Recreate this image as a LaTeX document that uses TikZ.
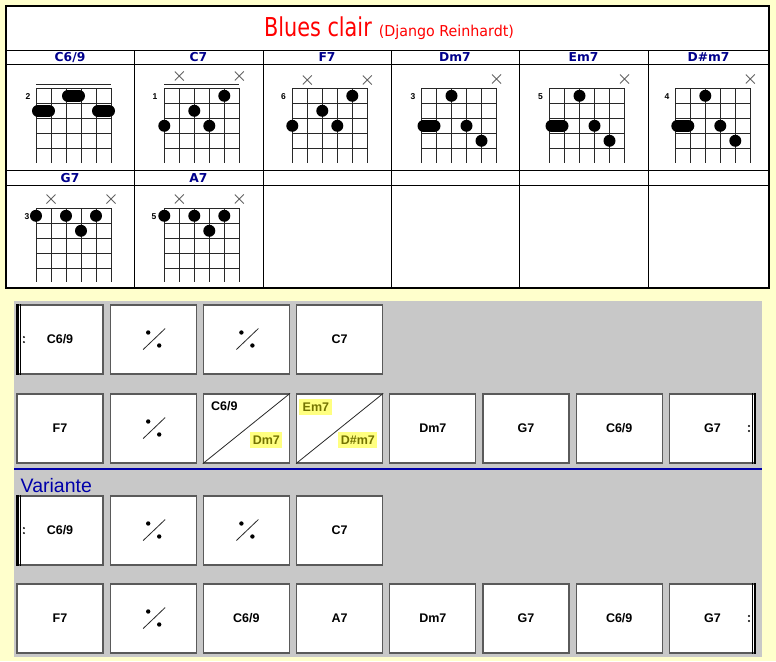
\documentclass[tikz,border=0pt]{standalone}
\usepackage{fontspec}
\setmainfont{Liberation Sans}
\newfontfamily\titlefont[FakeStretch=0.8]{DejaVu Sans}
\newfontfamily\subtitlefont[FakeStretch=0.95]{DejaVu Sans}
\newfontfamily\hdrfont{DejaVu Sans}
\definecolor{bgyellow}{RGB}{255,255,204}
\definecolor{panelgrey}{RGB}{200,200,200}
\definecolor{boxedge}{RGB}{90,90,90}
\definecolor{navyhdr}{RGB}{0,0,140}
\definecolor{varblue}{RGB}{0,0,170}
\definecolor{hlyellow}{RGB}{255,255,128}
\definecolor{olivetxt}{RGB}{115,115,0}
\definecolor{titlered}{RGB}{255,0,0}
\definecolor{gridgrey}{RGB}{40,40,40}
\definecolor{mutegrey}{RGB}{100,100,100}
\tikzset{
  gridline/.style={draw=gridgrey,line width=1pt},
  xmark/.style={draw=mutegrey,line width=0.8pt},
  simline/.style={draw=gridgrey,line width=0.8pt},
  hdr/.style={anchor=base,inner sep=0pt,text=navyhdr,font=\hdrfont\bfseries\fontsize{12.3}{14}\selectfont},
  fretno/.style={inner sep=0pt,font=\bfseries\fontsize{8.5}{10}\selectfont},
  bar/.style={draw=boxedge,fill=white,line width=1.2pt,minimum width=86pt,minimum height=69pt,inner sep=0pt,font=\bfseries\fontsize{12.5}{14}\selectfont},
  hl/.style={fill=hlyellow,text=olivetxt,inner sep=0pt,minimum height=16pt,font=\bfseries\fontsize{12.5}{14}\selectfont},
  tline/.style={draw=black,line width=1pt}
}
% fretboard helpers
\newcommand\fgrid[4]{%
  \foreach \i in {0,...,5} \draw[gridline] ({#1+15*\i},#2) -- ({#1+15*\i},#4);
  \foreach \j in {0,...,#3} \draw[gridline] (#1,{#2+15*\j}) -- ({#1+75},{#2+15*\j});}
\newcommand\fdot[4]{\fill ({#1+15*(#3-1)},{#2+15*(#4-1)+7.5}) circle[radius=6pt];}
\newcommand\fbarre[5]{\draw[line width=12pt,line cap=round] ({#1+15*(#3-1)+2},{#2+15*(#5-1)+7.5}) -- ({#1+15*(#4-1)-2},{#2+15*(#5-1)+7.5});}
\newcommand\fmute[3]{\draw[xmark] ({#1+15*(#3-1)-4.5},{#2-4.5}) -- ++(9,9) ({#1+15*(#3-1)-4.5},{#2+4.5}) -- ++(9,-9);}
\newcommand\bx[4]{\node[bar] (#1) at ({60+93.2*#2},#3) {#4};}
\newcommand\simile[1]{%
  \draw[simline] ([shift={(-10,10)}]#1.center) -- ([shift={(12,-11)}]#1.center);
  \fill ([shift={(-5,-7)}]#1.center) circle[radius=2.2pt];
  \fill ([shift={(6,6)}]#1.center) circle[radius=2.2pt];}
\newcommand\leftrep[1]{%
  \draw[line width=2.4pt] ([xshift=1.2pt]#1.north west) -- ([xshift=1.2pt]#1.south west);
  \draw[line width=0.8pt] ([xshift=4.3pt]#1.north west) -- ([xshift=4.3pt]#1.south west);
  \fill ([shift={(7.5,-2.5)}]#1.west) circle[radius=1.1pt];
  \fill ([shift={(7.5,2.5)}]#1.west) circle[radius=1.1pt];}
\newcommand\rightrep[1]{%
  \draw[line width=2.4pt] ([xshift=-1.2pt]#1.north east) -- ([xshift=-1.2pt]#1.south east);
  \draw[line width=0.8pt] ([xshift=-3.7pt]#1.north east) -- ([xshift=-3.7pt]#1.south east);
  \fill ([shift={(-7.1,-2.5)}]#1.east) circle[radius=1.1pt];
  \fill ([shift={(-7.1,2.5)}]#1.east) circle[radius=1.1pt];}
\begin{document}
\begin{tikzpicture}[x=1pt,y=-1pt]
\useasboundingbox (0,0) rectangle (776,661);
\fill[bgyellow] (0,0) rectangle (776,661);
% ---------- chord table ----------
\fill[white] (6,6) rectangle (769,288);
\draw[tline] (6,51) -- (769,51);
\draw[tline] (6,65) -- (769,65);
\draw[tline] (6,170) -- (769,170);
\draw[tline] (6,185) -- (769,185);
\foreach \cx in {134,263,391,519,648} \draw[tline] (\cx,51) -- (\cx,288);
\draw[draw=black,line width=1.5pt] (6,6) rectangle (769,288);
\node[anchor=base,inner sep=0pt] (title) at (389,37)
  {\titlefont\color{titlered}\fontsize{26}{30}\selectfont Blues clair\hspace{7pt}{\subtitlefont\fontsize{15}{18}\selectfont (Django Reinhardt)}};
% headers
\node[hdr] (h1) at (70,62) {C6/9};
\node[hdr] (h2) at (198.5,62) {C7};
\node[hdr] (h3) at (327,62) {F7};
\node[hdr] (h4) at (455,62) {Dm7};
\node[hdr] (h5) at (583.5,62) {Em7};
\node[hdr] (h6) at (708.5,62) {D\#m7};
\node[hdr] (h7) at (70,182) {G7};
\node[hdr] (h8) at (198.5,182) {A7};
% C6/9
\fgrid{36}{88.3}{4}{163}
\draw[gridline] (36,84) -- (111,84);
\node[fretno] (f1) at (28,96.5) {2};
\fbarre{36}{88.3}{3}{4}{1}
\fbarre{36}{88.3}{1}{2}{2}
\fbarre{36}{88.3}{5}{6}{2}
% C7
\fgrid{164.3}{88.3}{4}{163}
\draw[gridline] (164.3,84) -- (239.3,84);
\fmute{164.3}{76}{2}\fmute{164.3}{76}{6}
\node[fretno] (f2) at (155,96.5) {1};
\fdot{164.3}{88.3}{5}{1}\fdot{164.3}{88.3}{3}{2}\fdot{164.3}{88.3}{1}{3}\fdot{164.3}{88.3}{4}{3}
% F7
\fgrid{292.3}{88.3}{4}{163}
\fmute{292.3}{80}{2}\fmute{292.3}{80}{6}
\node[fretno] (f3) at (283.5,97) {6};
\fdot{292.3}{88.3}{5}{1}\fdot{292.3}{88.3}{3}{2}\fdot{292.3}{88.3}{1}{3}\fdot{292.3}{88.3}{4}{3}
% Dm7
\fgrid{421.5}{88.3}{4}{163}
\fmute{421.5}{79}{6}
\node[fretno] (f4) at (413,96.5) {3};
\fdot{421.5}{88.3}{3}{1}\fbarre{421.5}{88.3}{1}{2}{3}\fdot{421.5}{88.3}{4}{3}\fdot{421.5}{88.3}{5}{4}
% Em7
\fgrid{549.5}{88.3}{4}{163}
\fmute{549.5}{79}{6}
\node[fretno] (f5) at (540.5,96.5) {5};
\fdot{549.5}{88.3}{3}{1}\fbarre{549.5}{88.3}{1}{2}{3}\fdot{549.5}{88.3}{4}{3}\fdot{549.5}{88.3}{5}{4}
% D#m7
\fgrid{675.3}{88.3}{4}{163}
\fmute{675.3}{79}{6}
\node[fretno] (f6) at (667,96.5) {4};
\fdot{675.3}{88.3}{3}{1}\fbarre{675.3}{88.3}{1}{2}{3}\fdot{675.3}{88.3}{4}{3}\fdot{675.3}{88.3}{5}{4}
% G7
\fgrid{36}{208.3}{4}{282}
\fmute{36}{199}{2}\fmute{36}{199}{6}
\node[fretno] (f7) at (27,217) {3};
\fdot{36}{208.3}{1}{1}\fdot{36}{208.3}{3}{1}\fdot{36}{208.3}{5}{1}\fdot{36}{208.3}{4}{2}
% A7
\fgrid{164.3}{208.3}{4}{282}
\fmute{164.3}{199}{2}\fmute{164.3}{199}{6}
\node[fretno] (f8) at (154,217) {5};
\fdot{164.3}{208.3}{1}{1}\fdot{164.3}{208.3}{3}{1}\fdot{164.3}{208.3}{5}{1}\fdot{164.3}{208.3}{4}{2}
% ---------- grid panel ----------
\fill[panelgrey] (14,301) rectangle (762,657);
% row 1
\bx{r1c1}{0}{339.5}{C6/9}
\bx{r1c2}{1}{339.5}{}
\bx{r1c3}{2}{339.5}{}
\bx{r1c4}{3}{339.5}{C7}
\simile{r1c2}\simile{r1c3}
\leftrep{r1c1}
% row 2
\bx{r2c1}{0}{428.5}{F7}
\bx{r2c2}{1}{428.5}{}
\bx{r2c3}{2}{428.5}{}
\bx{r2c4}{3}{428.5}{}
\bx{r2c5}{4}{428.5}{Dm7}
\bx{r2c6}{5}{428.5}{G7}
\bx{r2c7}{6}{428.5}{C6/9}
\bx{r2c8}{7}{428.5}{G7}
\simile{r2c2}
\draw[simline] (r2c3.south west) -- (r2c3.north east);
\draw[simline] (r2c4.south west) -- (r2c4.north east);
\node[inner sep=0pt,font=\bfseries\fontsize{12.5}{14}\selectfont] (s1) at ([shift={(21.6,13)}]r2c3.north west) {C6/9};
\node[hl,minimum width=32pt] (s2) at ([shift={(63.6,47)}]r2c3.north west) {Dm7};
\node[hl,minimum width=33pt] (s3) at ([shift={(19.9,14)}]r2c4.north west) {Em7};
\node[hl,minimum width=39pt] (s4) at ([shift={(61.9,47)}]r2c4.north west) {D\#m7};
\rightrep{r2c8}
% divider
\draw[varblue,line width=2.5pt] (14,469) -- (762,469);
\node[anchor=base west,inner sep=0pt,text=varblue,font=\fontsize{19.5}{22}\selectfont] (variante) at (20.5,492) {Variante};
% row 3
\bx{r3c1}{0}{530.5}{C6/9}
\bx{r3c2}{1}{530.5}{}
\bx{r3c3}{2}{530.5}{}
\bx{r3c4}{3}{530.5}{C7}
\simile{r3c2}\simile{r3c3}
\leftrep{r3c1}
% row 4
\bx{r4c1}{0}{618.5}{F7}
\bx{r4c2}{1}{618.5}{}
\bx{r4c3}{2}{618.5}{C6/9}
\bx{r4c4}{3}{618.5}{A7}
\bx{r4c5}{4}{618.5}{Dm7}
\bx{r4c6}{5}{618.5}{G7}
\bx{r4c7}{6}{618.5}{C6/9}
\bx{r4c8}{7}{618.5}{G7}
\simile{r4c2}
\rightrep{r4c8}
\end{tikzpicture}
\end{document}
